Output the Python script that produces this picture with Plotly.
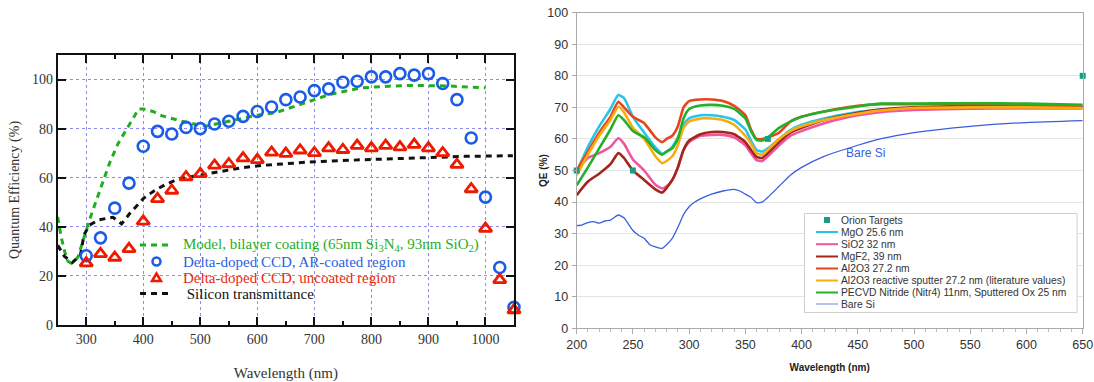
import plotly.graph_objects as go

# ---------------- Left panel data ----------------
ccd_wl = [300, 325, 350, 375, 400, 425, 450, 475, 500, 525, 550, 575, 600, 625, 650,
          675, 700, 725, 750, 775, 800, 825, 850, 875, 900, 925, 950, 975, 1000, 1025, 1050]
ar_coated = [28.2, 35.5, 47.6, 57.8, 72.8, 78.9, 77.8, 80.5, 80.0, 81.9, 83.0, 85.0, 87.0, 88.8, 91.8,
             92.9, 95.5, 96.2, 98.9, 99.3, 101.1, 101.1, 102.4, 101.8, 102.4, 98.4, 91.8, 76.2, 52.1, 23.4, 7.2]
uncoated = [25.2, 29.0, 27.5, 31.0, 42.2, 51.4, 54.8, 60.3, 61.6, 65.0, 65.6, 68.0, 67.3, 70.3, 69.8,
            71.2, 70.1, 72.1, 71.4, 73.1, 72.1, 73.1, 72.5, 73.5, 72.1, 70.1, 65.3, 55.4, 39.3, 18.4, 6.1]

model_wl = [250, 256, 262, 268, 274, 280, 286, 292, 298, 306, 314, 320, 329, 341, 356, 374, 383, 392,
            400, 417, 432, 468, 495, 510, 550, 600, 631, 674, 728, 782, 830, 873, 933, 1000]
model_qe = [44.0, 36.0, 30.0, 26.0, 25.2, 26.0, 28.0, 32.5, 38.0, 43.0, 48.3, 52.4, 57.8, 66.0, 74.0, 81.0, 85.0, 88.0,
            88.0, 87.0, 85.3, 83.0, 81.6, 81.0, 83.0, 85.5, 86.4, 89.8, 94.0, 96.6, 97.3, 97.6, 97.4, 96.6]

si_wl = [250, 262, 276, 290, 296, 306, 323, 347, 362, 377, 401, 420, 438, 462, 486, 534, 571, 607,
         692, 782, 873, 964, 1048]
si_tr = [32.5, 27.9, 25.5, 28.6, 36.7, 40.8, 42.9, 43.9, 41.2, 45.6, 51.7, 54.8, 57.1, 59.5, 60.5, 62.6, 64.0, 65.0,
         66.4, 67.3, 68.0, 68.7, 69.0]

left_names = ['Model, bilayer coating (65nm Si<sub>3</sub>N<sub>4</sub>, 93nm SiO<sub>2</sub>)',
              'Delta-doped CCD, AR-coated region',
              'Delta-doped CCD, uncoated region',
              ' Silicon transmittance']

# ---------------- Right panel data ----------------
wl = [200, 210, 220, 230, 237, 242, 250, 260, 270, 276, 280, 285, 290, 295, 300, 310, 320, 330, 340,
      350, 355, 360, 365, 370, 380, 390, 400, 420, 450, 470, 500, 550, 600, 650]
mgo = [49.5, 57.5, 64.0, 69.5, 73.9, 73.0, 67.0, 62.0, 57.3, 55.3, 56.0, 57.5, 60.5, 64.5, 66.5, 67.5, 67.5, 67.0, 66.0,
       63.0, 59.5, 56.5, 56.0, 57.0, 60.0, 62.8, 64.5, 66.5, 68.5, 69.3, 69.8, 70.2, 70.2, 70.2]
sio2 = [50.0, 54.0, 55.5, 57.5, 60.2, 58.5, 53.5, 50.0, 45.5, 44.3, 45.0, 47.0, 51.0, 56.5, 59.0, 61.0, 61.3, 61.3, 60.5,
        58.0, 55.5, 53.3, 53.0, 54.5, 58.0, 61.0, 62.5, 65.0, 67.5, 68.5, 69.2, 69.6, 69.7, 69.7]
mgf2 = [42.2, 46.5, 49.0, 52.0, 55.5, 54.0, 50.0, 47.0, 44.0, 43.0, 44.5, 47.0, 51.0, 56.5, 59.5, 61.5, 62.2, 62.2, 61.5,
        59.0, 56.5, 54.3, 54.0, 55.5, 59.0, 62.0, 63.5, 66.0, 68.3, 69.3, 70.0, 70.5, 70.6, 70.3]
al2o3 = [50.0, 56.0, 62.0, 67.0, 71.8, 70.0, 67.0, 65.0, 60.5, 59.0, 60.0, 61.0, 64.0, 70.0, 72.0, 72.5, 72.5, 72.0, 70.5,
         67.5, 63.0, 60.0, 60.0, 60.5, 62.0, 65.5, 67.0, 68.7, 70.5, 71.0, 71.0, 71.0, 70.8, 70.5]
al2o3_rs = [48.5, 55.0, 61.0, 66.0, 70.2, 68.5, 63.5, 60.0, 54.5, 52.3, 53.0, 54.5, 58.0, 63.5, 65.5, 66.5, 66.5, 66.0, 64.5,
            61.0, 58.5, 55.5, 55.0, 56.5, 60.0, 62.5, 64.0, 66.0, 68.0, 69.0, 69.8, 70.0, 70.0, 69.8]
pecvd = [45.3, 51.0, 57.0, 63.0, 67.5, 66.0, 62.5, 60.5, 56.5, 55.0, 56.0, 57.0, 60.0, 66.5, 69.5, 70.6, 70.8, 70.5, 69.5,
         66.5, 62.5, 59.7, 59.5, 60.5, 63.5, 65.5, 67.0, 68.7, 70.3, 71.2, 71.2, 71.3, 71.2, 70.8]
bare_wl = [200, 205, 210, 215, 220, 225, 230, 237, 242, 250, 255, 260, 265, 270, 276, 280, 285, 290, 295, 300,
           305, 310, 320, 330, 340, 345, 350, 355, 360, 365, 370, 380, 390, 400, 420, 450, 470, 500, 550, 600, 650]
bare_si = [32.5, 32.8, 33.5, 33.8, 33.3, 34.0, 34.3, 35.9, 35.0, 31.0, 29.5, 28.5, 26.5, 25.8, 25.3, 26.5, 28.5, 32.0, 36.0, 38.5,
           40.0, 41.0, 42.5, 43.5, 44.0, 43.5, 42.5, 41.5, 39.8, 40.0, 41.5, 45.0, 48.5, 51.0, 54.5, 58.0, 60.0, 62.0, 64.0, 65.2, 65.8]
orion_wl = [200, 250, 370, 650]
orion_qe = [50, 50, 60, 80]

right_names = ["Orion Targets", "MgO 25.6 nm", "SiO2 32 nm", "MgF2, 39 nm", "Al2O3 27.2 nm",
               "Al2O3 reactive sputter 27.2 nm (literature values)",
               "PECVD Nitride (Nitr4) 11nm, Sputtered Ox 25 nm", "Bare Si"]

serif = "Liberation Serif, Times New Roman, serif"
sans = "Arial, Liberation Sans, sans-serif"

W, H = 1094, 382
def px(x):
    return x / W
def py(y):
    return 1 - y / H

fig = go.Figure()

# ----- left traces -----
GREEN, BLUE, RED, BLACK = "#1fae1f", "#1a5ce8", "#ee1a00", "#111111"
fig.add_trace(go.Scatter(x=model_wl, y=model_qe, mode="lines", xaxis="x", yaxis="y", name="Model",
                         line=dict(color=GREEN, width=3, dash="6px,5px")))
fig.add_trace(go.Scatter(x=si_wl, y=si_tr, mode="lines", xaxis="x", yaxis="y", name="Silicon transmittance",
                         line=dict(color=BLACK, width=3, dash="6px,5px")))
fig.add_trace(go.Scatter(x=ccd_wl, y=ar_coated, mode="markers", xaxis="x", yaxis="y", cliponaxis=False,
                         name="AR-coated",
                         marker=dict(symbol="circle-open", size=11, color=BLUE, line=dict(width=2.6, color=BLUE))))
fig.add_trace(go.Scatter(x=ccd_wl, y=uncoated, mode="markers", xaxis="x", yaxis="y", cliponaxis=False,
                         name="uncoated",
                         marker=dict(symbol="triangle-up-open", size=11, color=RED, line=dict(width=2.8, color=RED))))

# ----- right traces -----
right_series = [
    (mgo, "#26c6ea"), (sio2, "#f0559e"), (mgf2, "#a3261a"), (al2o3, "#e8441c"),
    (al2o3_rs, "#f7ad12"), (pecvd, "#25b02a"),
]
for (vals, col), nm in zip(right_series, right_names[1:7]):
    fig.add_trace(go.Scatter(x=wl, y=vals, mode="lines", xaxis="x2", yaxis="y2", name=nm,
                             line=dict(color=col, width=2.6, shape="spline", smoothing=0.5)))
fig.add_trace(go.Scatter(x=bare_wl, y=bare_si, mode="lines", xaxis="x2", yaxis="y2", name="Bare Si",
                         line=dict(color="#3b5fdc", width=1.3, shape="spline", smoothing=0.5)))
TEAL = "#1a9c80"
fig.add_trace(go.Scatter(x=orion_wl, y=orion_qe, mode="markers", xaxis="x2", yaxis="y2", cliponaxis=False,
                         name="Orion Targets", marker=dict(symbol="square", size=6, color=TEAL)))

fig.add_annotation(x=457, y=55.5, xref="x2", yref="y2", text="Bare Si", showarrow=False,
                   font=dict(family=sans, size=12, color="#3b5fdc"))

shapes = []
annos = []

# right y-axis title placed exactly
annos.append(dict(x=px(543), y=py(171), xref="paper", yref="paper", text="<b>QE (%)</b>", showarrow=False,
                  textangle=-90, xanchor="center", yanchor="middle",
                  font=dict(family=sans, size=10, color="#222")))

# ----- left legend (drawn manually to match compact spacing) -----
shapes.append(dict(type="rect", xref="paper", yref="paper", x0=px(133), x1=px(470), y0=py(303), y1=py(230),
                   fillcolor="white", line=dict(width=0), layer="between"))
left_rows = [245, 261.5, 277.5, 293.5]
left_cols = [GREEN, "#2a62e0", "#e82a10", BLACK]
for yy, nm, col in zip(left_rows, left_names, left_cols):
    annos.append(dict(x=px(181), y=py(yy), xref="paper", yref="paper", text=nm, showarrow=False,
                      xanchor="left", yanchor="middle", font=dict(family=serif, size=15, color=col)))
shapes.append(dict(type="line", xref="paper", yref="paper", x0=px(140), x1=px(170), y0=py(245), y1=py(245),
                   line=dict(color=GREEN, width=3, dash="6px,5px")))
shapes.append(dict(type="line", xref="paper", yref="paper", x0=px(140), x1=px(170), y0=py(293.5), y1=py(293.5),
                   line=dict(color=BLACK, width=3, dash="6px,5px")))
shapes.append(dict(type="circle", xref="paper", yref="paper", x0=px(152.5), x1=px(160.5), y0=py(265.5), y1=py(257.5),
                   line=dict(color=BLUE, width=2.5)))
shapes.append(dict(type="path", xref="paper", yref="paper",
                   path=f"M {px(152)} {py(281)} L {px(161)} {py(281)} L {px(156.5)} {py(273.5)} Z",
                   line=dict(color=RED, width=2.5)))

# ----- right legend -----
shapes.append(dict(type="rect", xref="paper", yref="paper", x0=px(804.5), x1=px(1077), y0=py(312.5), y1=py(213.5),
                   fillcolor="white", line=dict(color="#d0d0d0", width=1), layer="above"))
right_rows = [220, 232, 244.2, 256.5, 268.5, 280.5, 292.5, 304]
right_cols = [TEAL] + [c for _, c in right_series] + ["#8a9ff0"]
for i, (yy, nm, col) in enumerate(zip(right_rows, right_names, right_cols)):
    annos.append(dict(x=px(839), y=py(yy), xref="paper", yref="paper", text=nm, showarrow=False,
                      xanchor="left", yanchor="middle", font=dict(family=sans, size=10.3, color="#333")))
    if i == 0:
        shapes.append(dict(type="rect", xref="paper", yref="paper", x0=px(824), x1=px(830), y0=py(yy + 3),
                           y1=py(yy - 3), fillcolor=col, line=dict(width=0), layer="above"))
    else:
        shapes.append(dict(type="line", xref="paper", yref="paper", x0=px(816), x1=px(838), y0=py(yy), y1=py(yy),
                           line=dict(color=col, width=1.3 if i == 7 else 2), layer="above"))

fig.update_layout(
    width=W, height=H,
    margin=dict(l=0, r=0, t=0, b=0),
    paper_bgcolor="white", plot_bgcolor="white",
    showlegend=False,
    shapes=shapes, annotations=list(fig.layout.annotations) + annos,
    xaxis=dict(
        domain=[px(57.7), px(514)], range=[250, 1050], anchor="y", automargin=False,
        tickmode="linear", tick0=300, dtick=100,
        ticks="inside", ticklen=8, tickwidth=1.5, tickcolor="#111",
        minor=dict(dtick=50, tick0=250, ticks="inside", ticklen=4, tickwidth=1.5, tickcolor="#111", showgrid=False),
        showgrid=True, gridcolor="#8c8cf0", griddash="dot", gridwidth=1,
        showline=True, linecolor="#111", linewidth=1.8, mirror="ticks",
        zeroline=False,
        tickfont=dict(family=serif, size=14, color="#333"),
        title=dict(text="Wavelength (nm)", font=dict(family=serif, size=15, color="#333"), standoff=22),
    ),
    yaxis=dict(
        domain=[py(325), py(55)], range=[0, 110], anchor="x", automargin=False,
        tickmode="linear", tick0=0, dtick=20,
        ticks="inside", ticklen=8, tickwidth=1.5, tickcolor="#111",
        showgrid=True, gridcolor="#8c8cf0", griddash="dot", gridwidth=1,
        showline=True, linecolor="#111", linewidth=1.8, mirror="ticks",
        zeroline=False,
        tickfont=dict(family=serif, size=14, color="#333"),
        title=dict(text="Quantum Efficiency (%)", font=dict(family=serif, size=14, color="#333"), standoff=9),
    ),
    xaxis2=dict(
        domain=[px(576.7), px(1082.7)], range=[200, 650], anchor="y2", automargin=False,
        tickmode="linear", tick0=200, dtick=50,
        ticks="outside", ticklen=5, tickcolor="#aaa",
        minor=dict(dtick=10, ticks="outside", ticklen=3, tickcolor="#bbb", showgrid=False),
        showgrid=False,
        showline=True, linecolor="#aaa", linewidth=1.2, mirror=True,
        zeroline=False,
        tickfont=dict(family=sans, size=12.5, color="#333"),
        title=dict(text="<b>Wavelength (nm)</b>", font=dict(family=sans, size=10, color="#222"), standoff=12),
    ),
    yaxis2=dict(
        domain=[py(328.3), py(12.7)], range=[0, 100], anchor="x2", automargin=False,
        tickmode="linear", tick0=0, dtick=10,
        ticks="outside", ticklen=4, tickcolor="#aaa", ticklabelstandoff=1,
        showgrid=True, gridcolor="#e4e4e4", gridwidth=1,
        showline=True, linecolor="#aaa", linewidth=1.2, mirror=True,
        zeroline=False,
        tickfont=dict(family=sans, size=12.5, color="#333"),
    ),
)

# remove the browser's default 8px body margin so the figure sits at the page origin
fig.write_html("out.html", config={"displayModeBar": False},
               post_script="document.body.style.margin='0';document.body.style.overflow='hidden';")
